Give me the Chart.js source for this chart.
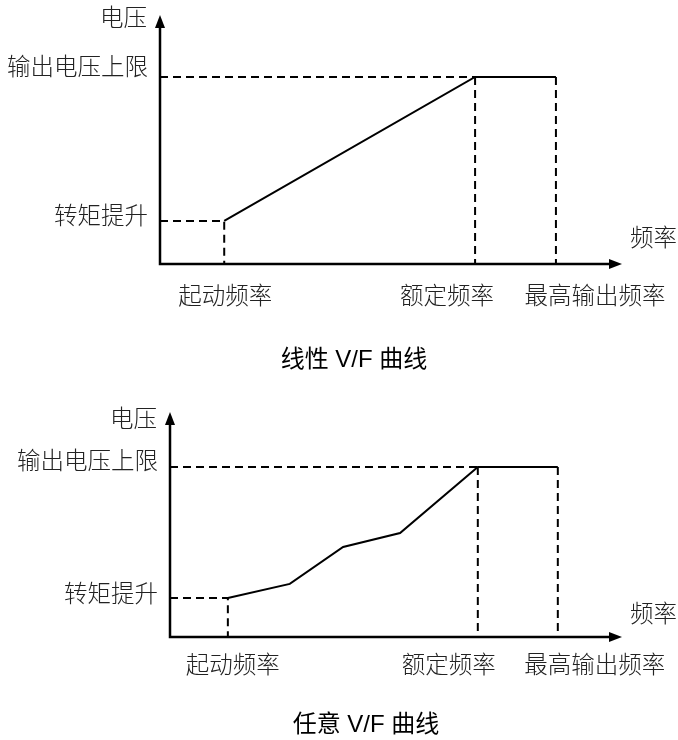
<!DOCTYPE html>
<html lang="zh-CN">
<head>
<meta charset="utf-8">
<title>V/F 曲线</title>
<script src="https://cdn.jsdelivr.net/npm/chart.js@4.4.1/dist/chart.umd.min.js"></script>
<style>
  html,body{margin:0;padding:0;background:#fff;}
  .wrap{position:relative;width:678px;height:740px;}
  canvas{display:block;}
</style>
</head>
<body>
<div class="wrap">
  <canvas id="chart-linear" width="678" height="370"></canvas>
  <canvas id="chart-custom" width="678" height="370"></canvas>
</div>
<script>
// 线性 V/F 曲线: 起动频率 -> 额定频率 -> 最高输出频率
const LINEAR_FREQ = [13.9, 68.2, 85.7];
const LINEAR_VOLT = [17.3, 75.1, 75.1];
// 任意 V/F 曲线: 多段折线
const CUSTOM_FREQ = [12.8, 26.5, 38.3, 50.9, 68.1, 85.8];
const CUSTOM_VOLT = [17.3, 23.6, 40.0, 46.2, 75.6, 75.6];

const X_TICK_LABELS = ['起动频率', '额定频率', '最高输出频率'];
const Y_TICK_LABELS = ['转矩提升', '输出电压上限'];
const AXIS_NAMES = ['频率', '电压'];
const CAPTIONS = ['线性 V/F 曲线', '任意 V/F 曲线'];

(function(){
  const LABEL_FONT = '300 23.5px "Noto Sans CJK SC", sans-serif';
  const CAPTION_FONT = '24px "Liberation Sans", "Noto Sans CJK SC", sans-serif';

  function buildDatasets(fx, vy){
    const n = fx.length;
    const f0 = fx[0], fr = fx[n-2], fm = fx[n-1];
    const vb = vy[0], vl = vy[n-1];
    const dash = {borderColor:'#000', borderWidth:2, borderDash:[8,5], pointRadius:0, showLine:true, fill:false};
    return [
      {data: fx.map((f,i)=>({x:f, y:vy[i]})), borderColor:'#000', borderWidth:2, pointRadius:0, showLine:true, fill:false},
      {...dash, data:[{x:0,y:vb},{x:f0,y:vb},{x:f0,y:0}]},
      {...dash, data:[{x:0,y:vl},{x:fr,y:vl}]},
      {...dash, data:[{x:fr,y:vl},{x:fr,y:0}]},
      {...dash, data:[{x:fm,y:vl},{x:fm,y:0}]}
    ];
  }

  // axes with arrows + all the text labels
  const vfDecor = {
    id: 'vfDecor',
    afterDatasetsDraw(chart, args, o){
      const {ctx, scales:{x, y}} = chart;
      const ox = x.getPixelForValue(0), oy = y.getPixelForValue(0);
      const tipX = x.getPixelForValue(x.max), tipY = y.getPixelForValue(y.max);
      ctx.save();
      ctx.strokeStyle = '#000'; ctx.fillStyle = '#000'; ctx.lineWidth = 2.5;
      ctx.beginPath(); ctx.moveTo(ox, tipY + 8); ctx.lineTo(ox, oy); ctx.lineTo(tipX - 8, oy); ctx.stroke();
      ctx.beginPath(); ctx.moveTo(ox, tipY); ctx.lineTo(ox - 5, tipY + 13); ctx.lineTo(ox + 5, tipY + 13); ctx.closePath(); ctx.fill();
      ctx.beginPath(); ctx.moveTo(tipX, oy); ctx.lineTo(tipX - 13, oy - 5); ctx.lineTo(tipX - 13, oy + 5); ctx.closePath(); ctx.fill();

      ctx.fillStyle = '#222'; ctx.font = LABEL_FONT; ctx.textBaseline = 'middle';
      ctx.textAlign = 'right';
      ctx.fillText(AXIS_NAMES[1], ox - 13, tipY + o.yNameDy);
      o.yTicks.forEach((t,i)=> ctx.fillText(Y_TICK_LABELS[i], ox - 12, y.getPixelForValue(t) - o.yLift[i]));
      ctx.textAlign = 'left';
      ctx.fillText(AXIS_NAMES[0], tipX + 8, oy - o.xNameLift);
      ctx.textAlign = 'center';
      o.xTicks.forEach((t,i)=> ctx.fillText(X_TICK_LABELS[i], x.getPixelForValue(t) + o.xShift[i], oy + o.xDrop));
      ctx.font = CAPTION_FONT; ctx.fillStyle = '#000';
      ctx.fillText(o.caption, o.captionX, o.captionY);
      ctx.restore();
    }
  };

  function makeChart(id, fx, vy, padding, decor){
    const n = fx.length;
    return new Chart(document.getElementById(id), {
      type: 'scatter',
      data: {datasets: buildDatasets(fx, vy)},
      options: {
        responsive: false, animation: false, events: [],
        layout: {padding: padding},
        scales: {
          x: {type:'linear', min:0, max:100, display:false},
          y: {type:'linear', min:0, max:100, display:false}
        },
        plugins: {
          legend: {display:false}, tooltip: {enabled:false},
          vfDecor: Object.assign({
            xTicks: [fx[0], fx[n-2], fx[n-1]],
            yTicks: [vy[0], vy[n-1]]
          }, decor)
        }
      },
      plugins: [vfDecor]
    });
  }

  makeChart('chart-linear', LINEAR_FREQ, LINEAR_VOLT,
    {left:160, right:56, top:15, bottom:106},
    {yNameDy:2, yLift:[6, 11], xNameLift:27, xShift:[1, -28, 39], xDrop:31,
     caption: CAPTIONS[0], captionX:354, captionY:360});

  makeChart('chart-custom', CUSTOM_FREQ, CUSTOM_VOLT,
    {left:170, right:56, top:42, bottom:103},
    {yNameDy:6, yLift:[5, 7], xNameLift:24, xShift:[5, -29, 37], xDrop:27,
     caption: CAPTIONS[1], captionX:366, captionY:355});
})();
</script>
</body>
</html>
